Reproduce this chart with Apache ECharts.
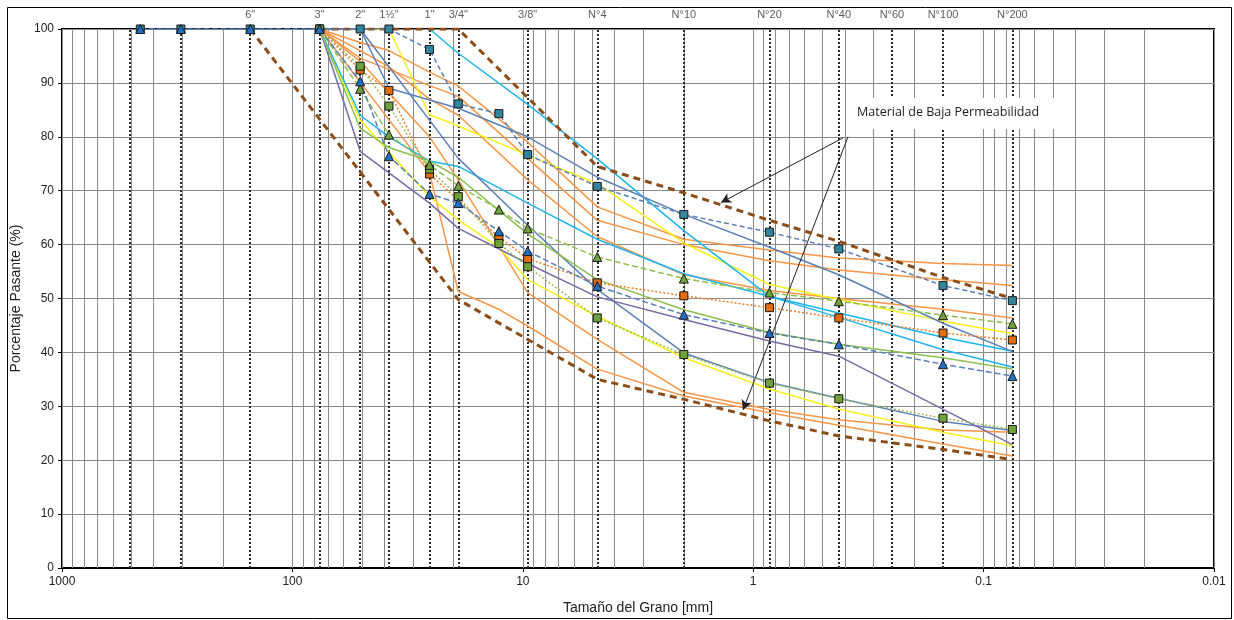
<!DOCTYPE html>
<html>
<head>
<meta charset="utf-8">
<script src="https://cdn.jsdelivr.net/npm/echarts@6/dist/echarts.min.js"></script>
<style>
html,body{margin:0;padding:0;background:#fff;}
#chart{width:1234px;height:620px;}
</style>
</head>
<body>
<div id="chart"></div>
<script>
// Sieve openings (mm) where the curves are sampled
const sieves = [457.2, 304.8, 152.4, 76.2, 50.8, 38.1, 25.4, 19.05, 12.7, 9.525, 4.75, 2.0, 0.85, 0.425, 0.15, 0.075];

// Marked sample curves (% passing)
const tealSq   = [100,100,100,100,100,100,96.2,86.1,84.3,76.7,70.8,65.6,62.3,59.2,52.4,49.6];
const orangeSq = [null,null,null,100,92.4,88.6,73.1,null,61.4,57.4,52.9,50.5,48.3,46.4,43.6,42.3];
const greenSq  = [null,null,null,100,93.1,85.7,74.0,68.9,60.2,55.9,46.4,39.6,34.3,31.4,27.8,25.7];
const greenTri = [null,null,null,100,88.9,80.4,74.8,70.9,66.5,63.0,57.7,53.7,51.1,49.5,46.9,45.3];
const blueTri  = [100,100,100,100,90.3,76.4,69.4,67.7,62.5,58.8,52.3,47.0,43.6,41.5,37.8,35.6];

// Unmarked curves
const orangeA = [null,null,null,100,97.5,96.0,92.0,89.4,null,79.0,67.0,61.0,59.0,57.5,56.5,56.1];
const orangeB = [null,null,null,100,94.6,92.5,89.5,87.5,null,76.0,64.5,60.0,57.0,55.3,53.5,52.4];
const orangeC = [null,null,null,100,96.0,93.0,87.0,84.0,null,72.0,61.5,54.4,51.5,50.0,48.0,46.4];
const orangeD = [null,null,null,100,94.0,null,80.0,72.0,null,51.1,42.4,32.6,29.4,27.5,25.6,25.2];
const orangeE = [null,null,null,100,null,null,73.3,51.3,48.0,44.9,36.9,31.9,28.8,26.5,23.0,20.8];
const yellowA = [null,null,null,100,100,100,84.1,82.0,null,76.6,71.3,60.3,52.6,49.8,45.8,43.5];
const yellowB = [null,null,null,100,83.1,null,68.9,64.6,59.5,53.5,46.7,39.0,33.2,29.5,25.2,22.7];
const cyanA   = [null,null,null,null,null,null,100,95.5,null,86.0,75.9,62.6,50.4,47.3,42.8,40.2];
const cyanB   = [null,null,null,100,84.0,80.0,75.5,74.5,null,67.7,61.0,54.6,50.4,46.5,40.5,37.3];
const steelA  = [null,null,null,100,100,89.0,null,85.3,null,80.0,72.5,65.6,59.5,54.4,45.4,40.2];
const steelB  = [null,null,null,100,100,null,83.1,76.0,null,63.6,51.7,39.9,34.4,31.5,27.2,25.5];
const purple  = [null,null,null,100,77.3,null,67.7,63.0,null,56.5,50.3,46.1,42.1,39.3,null,22.9];
const greenA  = [null,null,null,100,81.6,78.0,75.5,72.5,null,62.0,53.5,47.9,43.7,41.5,39.0,36.9];

// Envelope of low-permeability material
const envUpper = [null,null,null,100,null,null,null,100,null,null,74.5,69.6,64.5,60.6,53.9,50.0];
const envLower = [null,null,100,null,null,null,null,49.8,null,42.4,35.0,31.3,27.3,24.5,22.0,20.1];

// Sieve reference lines and labels
const sieveLines  = [508, 304.8, 152.4, 76.2, 50.8, 38.1, 25.4, 19.05, 9.525, 4.75, 2.0, 0.85, 0.425, 0.25, 0.15, 0.075];
const sieveLabels = ['', '', '6"', '3"', '2"', '1½"', '1"', '3/4"', '3/8"', 'N°4', 'N°10', 'N°20', 'N°40', 'N°60', 'N°100', 'N°200'];

const xTickLabels = ['1000','100','10','1','0.1','0.01'];
const annotationText = 'Material de Baja Permeabilidad';

const pairs = vals => sieves.map((s,i)=>[s, vals[i]]).filter(p=>p[1]!==null);

// minor log grid values
const minorGrid = [];
for (let e=-2; e<3; e++) for (let k=1; k<=9; k++) minorGrid.push(+(k*Math.pow(10,e)).toPrecision(3));
minorGrid.push(1000);

const FONT = 'Liberation Sans, Arial, sans-serif';

function lineS(name, vals, color, type, width, z){
  return {name, type:'line', data:pairs(vals), showSymbol:false, symbol:'none',
    lineStyle:{color, type:type||'solid', width:width||1.5}, z:z||3, silent:true, animation:false};
}
function markS(name, vals, lineColor, lineType, symbol, fill, size){
  return {name, type:'line', data:pairs(vals), showSymbol:true, symbol, symbolSize:size,
    itemStyle:{color:fill, borderColor:'#1b1b1b', borderWidth:1},
    lineStyle:{color:lineColor, type:lineType, width:1.5}, z:6, silent:true, animation:false};
}

const chart = echarts.init(document.getElementById('chart'), null, {renderer:'canvas'});
const series = [
  // minor log grid
  {type:'lines', coordinateSystem:'cartesian2d', z:1, silent:true, animation:false,
   lineStyle:{color:'#8a8a8a', width:1, type:'solid', opacity:1},
   data: minorGrid.map(v=>({coords:[[v,0],[v,100]]}))},
  // sieve dotted lines
  {type:'lines', coordinateSystem:'cartesian2d', z:2, silent:true, animation:false,
   lineStyle:{color:'#2a2a2a', width:2, type:[2,2], opacity:1},
   data: sieveLines.map(v=>({coords:[[v,0],[v,100]]}))},
  // sieve labels
  {type:'scatter', z:2, silent:true, animation:false, symbolSize:0, clip:false,
   label:{show:true, position:'top', distance:9, color:'#333', fontSize:11, fontFamily:FONT,
     formatter: p=>sieveLabels[p.dataIndex]},
   data: sieveLines.map(v=>[v,100])},
  lineS('orangeA', orangeA, '#F79646'),
  lineS('orangeB', orangeB, '#F79646'),
  lineS('orangeC', orangeC, '#F79646'),
  lineS('orangeD', orangeD, '#F79646'),
  lineS('orangeE', orangeE, '#F79646'),
  lineS('yellowA', yellowA, '#F5F01A'),
  lineS('yellowB', yellowB, '#F5F01A'),
  lineS('cyanA', cyanA, '#1EB4EE'),
  lineS('cyanB', cyanB, '#1EB4EE'),
  lineS('steelA', steelA, '#5B80B8'),
  lineS('steelB', steelB, '#5B80B8'),
  lineS('purple', purple, '#7A6AA6'),
  lineS('greenA', greenA, '#8CBF4E'),
  lineS('envUpper', envUpper, '#8B4E1A', [7,5], 3, 5),
  lineS('envLower', envLower, '#8B4E1A', [7,5], 3, 5),
  markS('tealSq', tealSq, '#5B80B8', [5,3], 'rect', '#31859C', 8),
  markS('orangeSq', orangeSq, '#F07C22', [2,2], 'rect', '#E46C0A', 8),
  markS('greenSq', greenSq, '#9BBB59', [2,2], 'rect', '#70A23A', 8),
  markS('greenTri', greenTri, '#8CBF4E', [6,3], 'triangle', '#70A23A', 9),
  markS('blueTri', blueTri, '#5B80B8', [6,3], 'triangle', '#1F6FC5', 9),
  {type:'line', data:[], z:8, silent:true, animation:false,
   markLine:{silent:true, animation:false, symbol:['none','arrow'], symbolSize:[8,10], label:{show:false},
     lineStyle:{color:'#222', width:1, type:'solid'},
     data:[
       [{coord:[0.4076,79.8]},{coord:[1.38,67.8]}],
       [{coord:[0.3877,80.0]},{coord:[1.107,29.3]}]
     ]}}
];

chart.setOption({
  backgroundColor:'#fff',
  animation:false,
  grid:{left:62, right:20, top:29, bottom:51, show:true, borderColor:'#000', borderWidth:2, backgroundColor:'transparent'},
  xAxis:{type:'log', logBase:10, min:0.01, max:1000, inverse:true, splitNumber:5,
    axisLine:{show:true, onZero:false, lineStyle:{color:'#000', width:2}},
    axisTick:{show:true, length:4, lineStyle:{color:'#000'}},
    minorTick:{show:false}, splitLine:{show:false},
    axisLabel:{color:'#222', fontSize:12, fontFamily:FONT, margin:8,
      formatter: v => { const e = Math.round(Math.log10(v)); return xTickLabels[3-e]; }},
    name:'Tamaño del Grano [mm]', nameLocation:'middle', nameGap:33,
    nameTextStyle:{color:'#222', fontSize:14, fontFamily:FONT}},
  yAxis:{type:'value', min:0, max:100, interval:10,
    axisLine:{show:true, lineStyle:{color:'#000', width:2}},
    axisTick:{show:true, length:4, lineStyle:{color:'#000'}},
    splitLine:{show:true, lineStyle:{color:'#8a8a8a', width:1}},
    axisLabel:{color:'#222', fontSize:12, fontFamily:FONT, margin:8},
    name:'Porcentaje Pasante (%)', nameLocation:'middle', nameGap:27, nameRotate:90,
    nameTextStyle:{color:'#222', fontSize:14, fontFamily:FONT}},
  graphic:[
    {type:'rect', left:5, top:5, z:0, silent:true,
     shape:{width:1224, height:611}, style:{fill:'none', stroke:'#000', lineWidth:1}},
    {type:'rect', left:853, top:98, z:100, silent:true,
     shape:{width:222, height:31}, style:{fill:'#fff'}},
    {type:'text', left:857, top:106, z:101, silent:true,
     style:{text:annotationText, fill:'#222', font:'12.5px "Open Sans", sans-serif'}}
  ],
  series
});
</script>
</body>
</html>
